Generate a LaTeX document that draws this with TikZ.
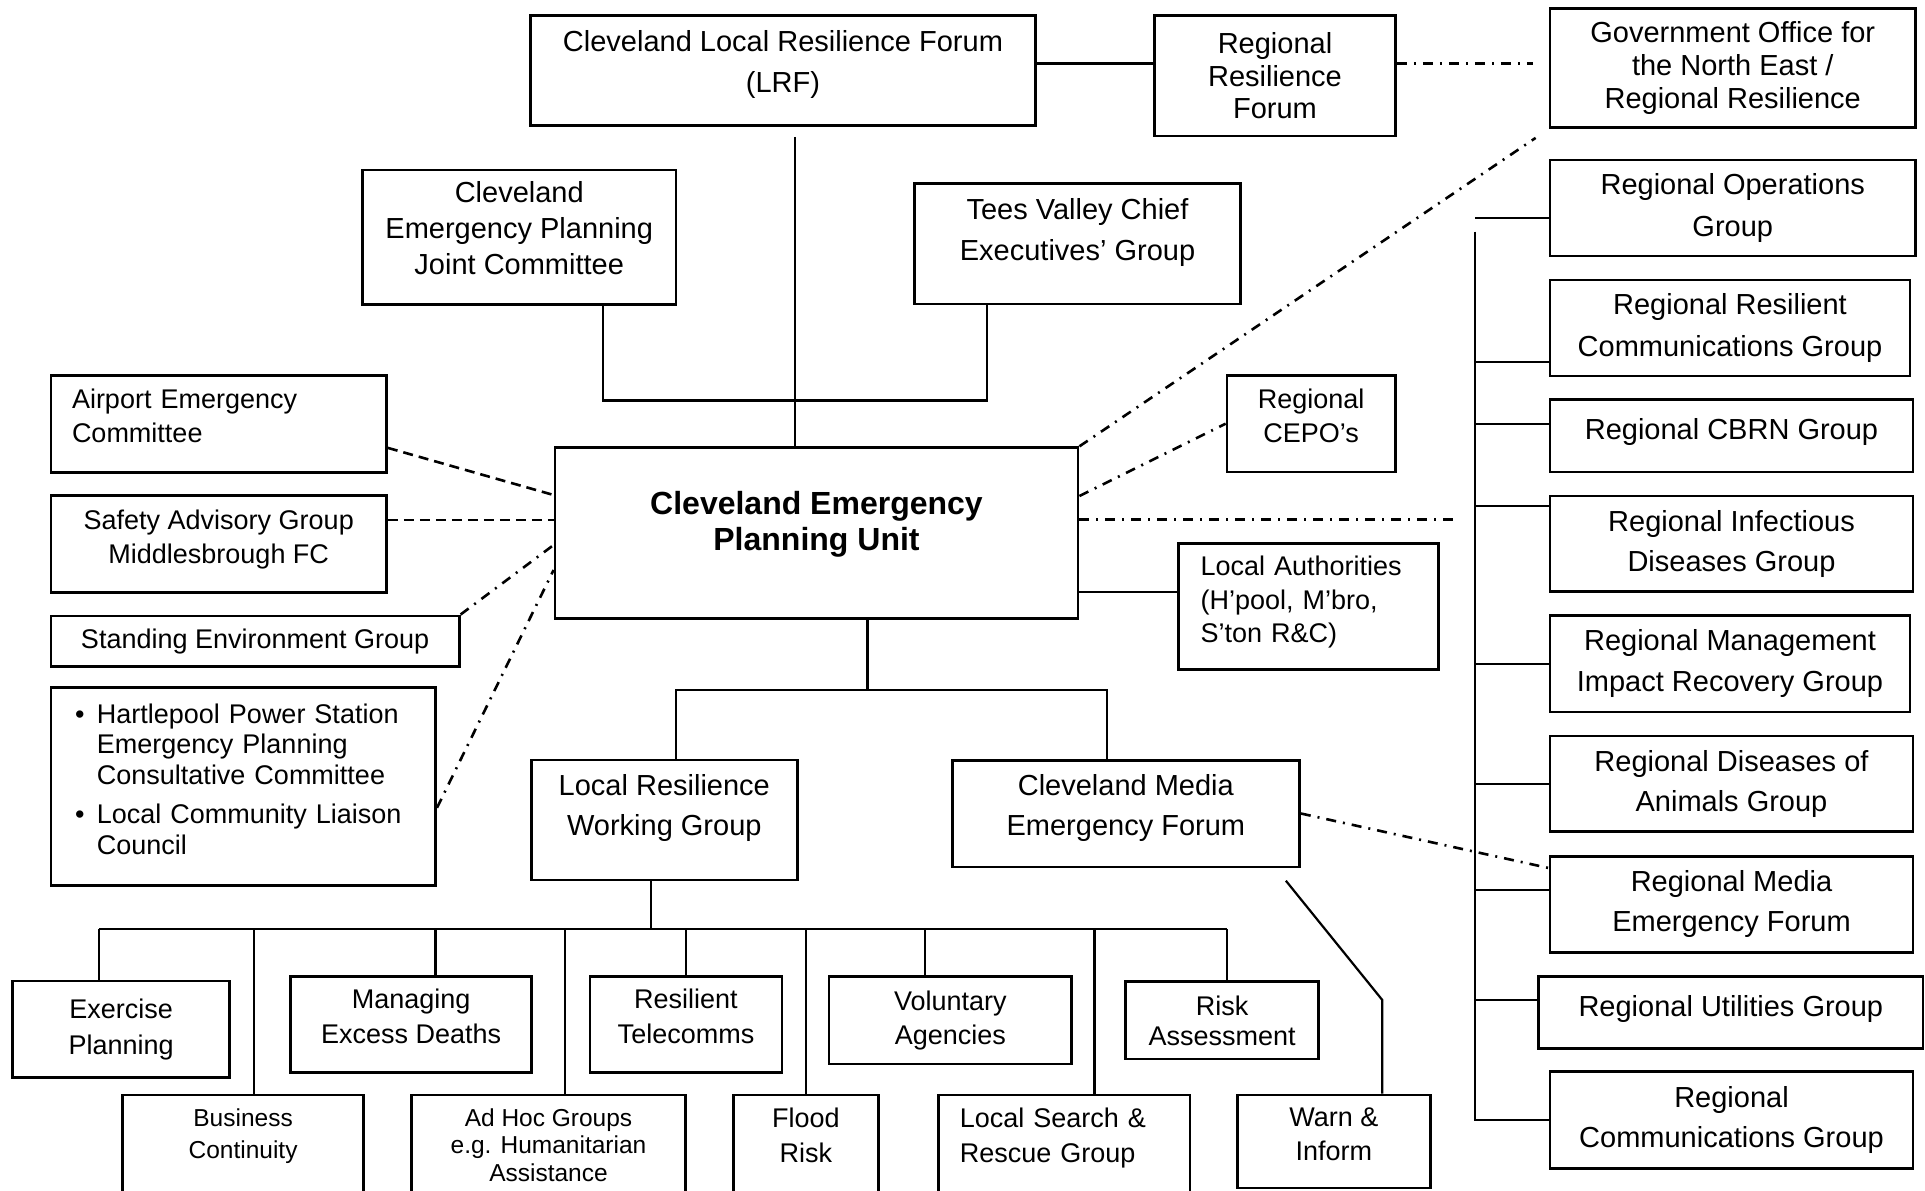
\documentclass[tikz,border=0pt]{standalone}
\usepackage{fontspec}
\setmainfont{Liberation Sans}
\setlength\parindent{0pt}
\newcommand\lift[2]{\raisebox{#1}[\height][\depth]{\begin{tabular}{@{}c@{}}#2\end{tabular}}}
\newcommand\liftl[2]{\raisebox{#1}[\height][\depth]{\begin{tabular}{@{}l@{}}#2\end{tabular}}}

\begin{document}
\begin{tikzpicture}[x=1pt,y=-1pt,
  box/.style={draw, line width=2.8pt, align=center, inner sep=0pt},
  bigtext/.style={font=\fontsize{29}{#1}\selectfont}, bigtext/.default=40,
  smalltext/.style={font=\fontsize{27}{#1}\selectfont}, smalltext/.default=34,
  tinytext/.style={font=\fontsize{24.5}{#1}\selectfont},
  boldtext/.style={font=\fontsize{32}{36.2}\selectfont\bfseries},
  link/.style={line width=2.2pt},
  dashlink/.style={line width=2.6pt, dash pattern=on 10pt off 6pt},
  dotlink/.style={line width=2.6pt, dash pattern=on 10pt off 7pt on 2pt off 7pt}]

  \path[fill=white, use as bounding box] (0,0) rectangle (1925,1191);
  \clip (0,0) rectangle (1925,1191);

  % top row
  \node[box, bigtext=41, minimum width=505pt, minimum height=110pt] (lrf) at (783,70.5)
    {\lift{7pt}{Cleveland Local Resilience Forum\\(LRF)}};
  \node[box, bigtext=32.7, minimum width=241pt, minimum height=120.5pt] (rrf) at (1275,75.75)
    {Regional\\Resilience\\Forum};
  \node[box, bigtext=33.3, minimum width=365.5pt, minimum height=119pt] (gone) at (1732.75,68)
    {Government Office for\\the North East /\\Regional Resilience};
  \node[box, bigtext=35.8, minimum width=313.5pt, minimum height=134.5pt] (jointcttee) at (519.25,237.25)
    {\lift{6pt}{Cleveland\\Emergency Planning\\Joint Committee}};
  \node[box, bigtext=40.7, minimum width=326pt, minimum height=120.5pt] (teesvalley) at (1077.5,243.75)
    {\lift{12pt}{Tees Valley Chief\\Executives’ Group}};

  % regional groups
  \node[box, bigtext=41.7, minimum width=365.5pt, minimum height=96pt] (ops) at (1732.75,208)
    {Regional Operations\\Group};
  \node[box, bigtext=41.7, minimum width=360pt, minimum height=96pt] (comms) at (1730,328)
    {Regional Resilient\\Communications Group};
  \node[box, bigtext, minimum width=363pt, minimum height=72.3pt] (cbrn) at (1731.5,435.75)
    {\lift{4pt}{Regional CBRN Group}};
  \node[box, bigtext=39.6, minimum width=363pt, minimum height=95.7pt] (infect) at (1731.5,543.85)
    {Regional Infectious\\Diseases Group};
  \node[box, bigtext=41.4, minimum width=360pt, minimum height=96.4pt] (impact) at (1730,663.7)
    {Regional Management\\Impact Recovery Group};
  \node[box, bigtext=39.6, minimum width=363pt, minimum height=95.8pt] (animals) at (1731.5,783.9)
    {Regional Diseases of\\Animals Group};
  \node[box, bigtext=40, minimum width=363pt, minimum height=95.8pt] (regmedia) at (1731.5,904.4)
    {Regional Media\\Emergency Forum};
  \node[box, bigtext, minimum width=384.3pt, minimum height=71.6pt] (utilities) at (1730.85,1012.5)
    {\lift{4pt}{Regional Utilities Group}};
  \node[box, bigtext=40, minimum width=363pt, minimum height=96.6pt] (regcomms) at (1731.5,1120)
    {Regional\\Communications Group};

  % unit and its neighbours
  \node[box, boldtext, minimum width=523pt, minimum height=170.5pt] (unit) at (816.5,533)
    {\lift{8pt}{Cleveland Emergency\\Planning Unit}};
  \node[box, smalltext=34.4, minimum height=96.8pt, text width=293.5pt, inner xsep=21pt, align=left] (airport) at (218.75,423.9)
    {\liftl{5pt}{Airport Emergency\\Committee}};
  \node[box, smalltext=34.5, minimum width=335.5pt, minimum height=97pt] (safety) at (218.75,543.85)
    {\lift{4.5pt}{Safety Advisory Group\\Middlesbrough FC}};
  \node[box, smalltext, minimum width=408.2pt, minimum height=50.6pt] (environment) at (255.1,641.2)
    {Standing Environment Group};
  \node[box, smalltext=30.5, minimum height=198pt, text width=336.6pt, inner xsep=24pt, align=left] (hartlepool) at (243.3,786.8)
    {\raisebox{4pt}[\height][\depth]{\begin{tabular}{@{}l@{\hspace{12.5pt}}l@{}}
      \textbullet & Hartlepool Power Station\\
                  & Emergency Planning\\
                  & Consultative Committee\\[9pt]
      \textbullet & Local Community Liaison\\
                  & Council
    \end{tabular}}};
  \node[box, smalltext=34.4, minimum width=168.3pt, minimum height=96.4pt] (cepo) at (1311.15,423.7)
    {\lift{5pt}{Regional\\CEPO’s}};
  \node[box, smalltext=33.6, minimum height=125.7pt, text width=216pt, inner xsep=21.8pt, align=left] (authorities) at (1308.6,606.35)
    {\liftl{4pt}{Local Authorities\\(H’pool, M’bro,\\S’ton R\&C)}};
  \node[box, bigtext=40.3, minimum width=266pt, minimum height=120pt] (workgroup) at (664.3,820)
    {\lift{12.5pt}{Local Resilience\\Working Group}};
  \node[box, bigtext=40.3, minimum width=347.3pt, minimum height=106.8pt] (media) at (1125.85,813.5)
    {\lift{6pt}{Cleveland Media\\Emergency Forum}};

  % working groups
  \node[box, smalltext=36, minimum width=216.8pt, minimum height=96.7pt] (exercise) at (121.2,1029.35)
    {Exercise\\Planning};
  \node[box, smalltext=35, minimum width=240.5pt, minimum height=95.6pt] (deaths) at (411.05,1024.5)
    {\lift{6pt}{Managing\\Excess Deaths}};
  \node[box, smalltext=35, minimum width=192pt, minimum height=95.6pt] (telecomms) at (686,1024.5)
    {\lift{6pt}{Resilient\\Telecomms}};
  \node[box, smalltext=34.4, minimum width=242.8pt, minimum height=87.3pt] (voluntary) at (950.4,1020.35)
    {Voluntary\\Agencies};
  \node[box, smalltext=30, minimum width=192.9pt, minimum height=77.3pt] (risk) at (1222.15,1020.35)
    {Risk\\Assessment};
  \node[box, tinytext=31.7, minimum width=240.6pt, minimum height=150pt] (business) at (243.1,1170)
    {\lift{34pt}{Business\\Continuity}};
  \node[box, tinytext=27.5, minimum width=274.2pt, minimum height=150pt] (adhoc) at (548.5,1170)
    {\lift{22pt}{Ad Hoc Groups\\e.g. Humanitarian\\Assistance}};
  \node[box, smalltext=35, minimum width=144.8pt, minimum height=150pt] (flood) at (805.9,1170)
    {\lift{32pt}{Flood\\Risk}};
  \node[box, smalltext=35.6, minimum height=150pt, text width=209.2pt, inner xsep=21pt, align=left] (search) at (1064.4,1170)
    {\liftl{32pt}{Local Search \&\\Rescue Group}};
  \node[box, smalltext=34, minimum width=192.8pt, minimum height=93pt] (warn) at (1333.9,1141.5)
    {\lift{5pt}{Warn \&\\Inform}};

  % top links
  \coordinate (lrf-r) at ([yshift=7pt]lrf.east);
  \draw[link] (lrf-r) -- (lrf-r -| rrf.west);
  \coordinate (rrf-r) at ([yshift=12.5pt]rrf.east);
  \coordinate (gone-gap) at ([xshift=-16pt]gone.west);
  \draw[dotlink] (rrf-r) -- (rrf-r -| gone-gap);
  \coordinate (lrf-foot) at ([xshift=12.3pt,yshift=-10pt]lrf.south);
  \draw[link] (lrf-foot) -- (lrf-foot |- unit.north);
  \coordinate (jc-foot) at ([xshift=83.5pt]jointcttee.south);
  \coordinate (tv-foot) at ([xshift=-90.2pt]teesvalley.south);
  \draw[link] (jc-foot) -- ++(0,94.5) -| (tv-foot);

  % regional bus
  \coordinate (bus-top) at (1475,231.7);
  \draw[link] (bus-top) |- (regcomms.west);
  \foreach \n/\s in {ops/-10pt, comms/-33.7pt, cbrn/12pt, infect/37.5pt, impact/0pt,
                     animals/0pt, regmedia/14.4pt, utilities/12.5pt}
    {\coordinate (stub) at ([yshift=\s]\n.west);
     \draw[link] (stub) -- (stub -| bus-top);}

  % links to the unit
  \draw[dashlink] ([yshift=-24pt]airport.east) -- ([yshift=38pt]unit.west);
  \coordinate (safety-r) at ([yshift=24pt]safety.east);
  \draw[dashlink] (safety-r) -- (safety-r -| unit.west);
  \draw[dotlink] (environment.north east) -- ([yshift=-12pt]unit.west);
  \draw[dotlink] ([yshift=-21pt]hartlepool.east) -- ([yshift=-37pt]unit.west);
  \coordinate (gone-corner) at ([shift={(-13pt,-9pt)}]gone.south west);
  \draw[dotlink] (unit.north east) -- (gone-corner);
  \draw[dotlink] ([yshift=37pt]unit.east) -- (cepo.west);
  \coordinate (unit-r) at ([yshift=13.6pt]unit.east);
  \coordinate (bus-gap) at ([xshift=-16pt]bus-top);
  \draw[dotlink] (unit-r) -- (unit-r -| bus-gap);
  \coordinate (unit-la) at ([yshift=-58.7pt]unit.east);
  \draw[link] (unit-la) -- (unit-la -| authorities.west);

  % below the unit
  \coordinate (unit-foot) at ([xshift=51pt]unit.south);
  \draw[link] (unit-foot) -- ++(0,70.6) coordinate (split);
  \draw[link] ([xshift=11.7pt]workgroup.north) |- (split) -| ([xshift=-18.5pt]media.north);
  \coordinate (wg-foot) at ([xshift=-13.7pt]workgroup.south);
  \draw[link] (wg-foot) -- ++(0,47.7) coordinate (wg-bus);
  \foreach \n/\s in {exercise/-22.3pt, business/10.7pt, deaths/24.5pt, adhoc/16.5pt, telecomms/0pt,
                     flood/0pt, voluntary/-25.6pt, search/30pt, risk/4.8pt}
    {\coordinate (drop) at ([xshift=\s]\n.north);
     \draw[link] (drop) -- (drop |- wg-bus);}
  \coordinate (bus-l) at ([xshift=-22.3pt]exercise.north);
  \coordinate (bus-r) at ([xshift=4.8pt]risk.north);
  \draw[link] (bus-l |- wg-bus) -- (bus-r |- wg-bus);

  % media links
  \coordinate (media-foot) at ([xshift=160pt,yshift=-12.4pt]media.south);
  \coordinate (warn-bend) at (1382.3,1000);
  \draw[link] (media-foot) -- (warn-bend) -- (warn-bend |- warn.north);
  \draw[dotlink] (media.east) -- ([yshift=36.4pt]regmedia.west);
\end{tikzpicture}
\end{document}
